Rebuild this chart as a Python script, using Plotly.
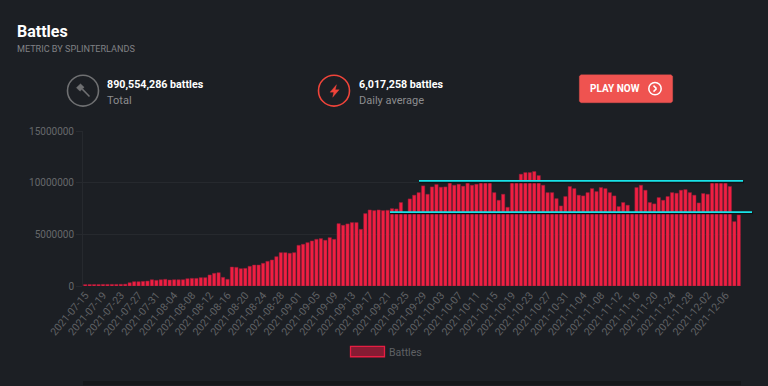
import plotly.graph_objects as go
from datetime import date, timedelta

START = date(2021, 7, 15)
battles_m = [
    0.14,0.15,0.15,0.15,0.16,0.16,0.16,0.16,0.17,0.18,0.32,0.42,0.42,0.45,0.48,0.61,0.55,0.61,0.65,0.58,
    0.61,0.61,0.61,0.71,0.74,0.74,0.81,0.81,1.07,1.23,1.29,0.84,0.65,1.84,1.81,1.68,1.71,1.91,2.03,2.03,
    2.2,2.39,2.52,2.84,3.23,3.23,3.17,3.23,3.94,
    4.04,4.2,4.36,4.52,4.59,4.43,4.68,4.52,6.04,5.88,6.01,6.14,6.14,5.49,7.01,7.36,7.3,7.36,7.3,7.33,
    7.49,7.46,8.08,7.11,8.43,8.79,9.04,9.69,8.88,9.59,9.82,9.56,9.59,10.11,9.75,9.85,9.66,10.01,9.75,9.85,
    10.14,10.17,10.17,9.04,8.3,8.88,7.62,10.17,10.17,10.82,10.98,10.98,11.08,10.69,
    9.75,9.04,9.04,8.46,7.75,8.66,9.63,9.43,8.79,8.72,9.04,9.43,9.14,9.53,9.43,9.04,8.72,7.69,8.08,7.82,
    7.11,9.53,9.75,9.27,8.08,7.95,8.56,8.3,8.66,9.04,8.98,9.27,9.33,9.04,8.79,8.04,8.95,8.88,10.17,10.17,
    9.98,10.01,9.63,6.23,6.88,
]
dates = [(START + timedelta(days=i)).isoformat() for i in range(len(battles_m))]
values = [round(v * 1_000_000) for v in battles_m]
tick_dates = dates[::4]
y_ticks = [0, 5000000, 10000000, 15000000]

W, H = 768, 386
L, R, T, B = 83, 27, 131, 99.5
def px(x): return (x - L) / (W - L - R)
def py(y): return 1 - (y - T) / (H - T - B)

FONT = "Roboto"
BG = "#1c1f24"
GRID = "#26292e"

fig = go.Figure(go.Bar(x=dates, y=values, name="Battles", marker=dict(color="#f01f42", line=dict(color="#8f1f38", width=0.5))))

shapes = []
def line(x0, y0, x1, y1, color, width):
    shapes.append(dict(type="line", xref="paper", yref="paper", x0=px(x0), y0=py(y0), x1=px(x1), y1=py(y1), line=dict(color=color, width=width), layer="above"))
def circle(cx, cy, r, color, width=1.6, fill="rgba(0,0,0,0)"):
    shapes.append(dict(type="circle", xref="paper", yref="paper", x0=px(cx-r), x1=px(cx+r), y0=py(cy+r), y1=py(cy-r), line=dict(color=color, width=width), fillcolor=fill, layer="above"))
def poly(points, color):
    p = "M" + " L".join(f"{px(a):.5f},{py(b):.5f}" for a, b in points) + " Z"
    shapes.append(dict(type="path", xref="paper", yref="paper", path=p, fillcolor=color, line=dict(color=color, width=0.3), layer="above"))

# darker strip below the card
shapes.append(dict(type="rect", xref="paper", yref="paper", x0=0, x1=1, y0=py(386), y1=py(381.7), fillcolor="#15171a", line=dict(width=0), layer="above"))

# cyan annotation lines with dark shadow
line(419, 182.3, 744, 182.3, "#101215", 2)
line(419, 181, 743, 181, "#18e3e8", 1.6)
line(390, 213.6, 753, 213.6, "#101215", 2)
line(390, 212.4, 752, 212.4, "#18e3e8", 1.6)

# icons
circle(83, 90.5, 15.5, "#6f7072")
poly([(76.3,87.5),(80.5,83.5),(84.2,87.2),(80,91.2)], "#6f7072")
line(82.3, 89, 89.5, 96.3, "#6f7072", 1.5)
circle(334, 90.5, 15.5, "#f0443a")
poly([(336.5,84.5),(330,92),(333.7,92),(332.7,97.2),(339.2,89.5),(335.3,89.5)], "#f0443a")

# button
poly([(581,74.5),(671,74.5),(672.7,76),(672.7,101.2),(671,102.7),(581,102.7),(579.3,101.2),(579.3,76)], "#ef5350")
circle(655, 88.5, 6.2, "#ffffff", 1.5)
line(653.5, 85.5, 656.5, 88.5, "#ffffff", 1.5)
line(656.5, 88.5, 653.5, 91.5, "#ffffff", 1.5)

# legend
shapes.append(dict(type="rect", xref="paper", yref="paper", x0=px(350.5), x1=px(384.5), y0=py(357.5), y1=py(347), fillcolor="#861b33", line=dict(color="#e81d42", width=1.3), layer="above"))

def text(x, y, s, size, color, weight=400, anchor="left"):
    fig.add_annotation(xref="paper", yref="paper", x=px(x - 2), y=py(y), text=s, showarrow=False, xanchor=anchor, yanchor="middle",
                       font=dict(family=FONT, size=size, color=color, weight=weight), align="left")

text(16.5, 31, "Battles", 16, "#ffffff", 700)
text(16.5, 48.5, "METRIC BY SPLINTERLANDS", 9.1, "#808184")
text(107, 84, "890,554,286 battles", 10.7, "#ffffff", 700)
text(107, 100.5, "Total", 11, "#8c8d8f")
text(358.5, 84, "6,017,258 battles", 10.7, "#ffffff", 700)
text(358.5, 100.5, "Daily average", 11, "#8c8d8f")
text(589.5, 88.5, "PLAY NOW", 10, "#ffffff", 700)
text(389, 352.8, "Battles", 10.5, "#5f6164")

fig.update_layout(
    width=W, height=H, margin=dict(l=L, r=R, t=T, b=B), autosize=False,
    paper_bgcolor=BG, plot_bgcolor=BG, showlegend=False, bargap=0.24, shapes=shapes,
    font=dict(family=FONT, color="#66686b", size=10),
)
fig.update_xaxes(type="category", categoryorder="array", categoryarray=dates, tickmode="array", tickvals=tick_dates, ticktext=tick_dates, tickangle=-50,
                 tickfont=dict(size=10.5, color="#606265"), showgrid=False, zeroline=False, showline=False, ticks="", range=[-0.5, len(dates)-0.5])
fig.update_yaxes(range=[0, 15000000], tickmode="array", tickvals=y_ticks, ticktext=[str(v) for v in y_ticks], tickformat="d",
                 tickfont=dict(size=10, color="#66686b"), gridcolor=GRID, gridwidth=1, zeroline=False, showline=True, linecolor=GRID, linewidth=1,
                 ticks="outside", ticklen=6, tickcolor=GRID, tickwidth=1)

fig.write_html("out.html", config=dict(displayModeBar=False, responsive=False),
               post_script="document.body.style.margin='0';document.body.style.background='%s';document.documentElement.style.overflow='hidden';" % BG)
